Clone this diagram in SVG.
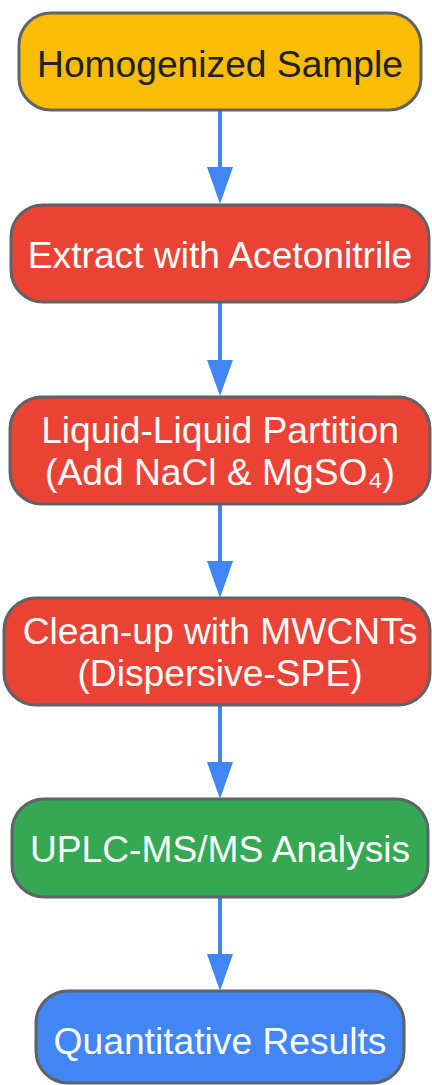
<svg xmlns="http://www.w3.org/2000/svg" width="432" height="1085" viewBox="0 0 432 1085">
<style>
.n{stroke:#5f6368;stroke-width:3}
.t{font-family:"Liberation Sans",Arial,sans-serif;font-size:37.2px;text-anchor:middle;fill:#fff}
.e{stroke:#4285F4;stroke-width:4;fill:none}
.h{fill:#4285F4}
</style>
<rect width="432" height="1085" fill="#fff"/>
<g id="edges">
<path class="e" d="M220,111 V167"/><path class="h" d="M207,167 L233,167 L220,204 Z"/>
<path class="e" d="M220,303 V360"/><path class="h" d="M207,360 L233,360 L220,396 Z"/>
<path class="e" d="M220,505 V561"/><path class="h" d="M207,561 L233,561 L220,598 Z"/>
<path class="e" d="M220,706 V762"/><path class="h" d="M207,762 L233,762 L220,799 Z"/>
<path class="e" d="M220,898 V954"/><path class="h" d="M207,954 L233,954 L220,991 Z"/>
</g>
<g id="n1"><rect class="n" x="19" y="13" width="402" height="97" rx="32" fill="#FBBC04"/><text class="t" x="220" y="77" style="fill:#202124">Homogenized Sample</text></g>
<g id="n2"><rect class="n" x="11" y="205" width="418" height="97" rx="32" fill="#EA4335"/><text class="t" x="220" y="268">Extract with Acetonitrile</text></g>
<g id="n3"><rect class="n" x="10" y="397" width="420" height="107" rx="32" fill="#EA4335"/><text class="t" x="220" y="443">Liquid-Liquid Partition</text><text class="t" x="220" y="485">(Add NaCl &amp; MgSO₄)</text></g>
<g id="n4"><rect class="n" x="4" y="598" width="426" height="107" rx="32" fill="#EA4335"/><text class="t" x="220" y="644">Clean-up with MWCNTs</text><text class="t" x="220" y="686">(Dispersive-SPE)</text></g>
<g id="n5"><rect class="n" x="12" y="799" width="416" height="98" rx="32" fill="#34A853"/><text class="t" x="220" y="862">UPLC-MS/MS Analysis</text></g>
<g id="n6"><rect class="n" x="36" y="991" width="368" height="92" rx="32" fill="#4285F4"/><text class="t" x="220" y="1054">Quantitative Results</text></g>
</svg>
